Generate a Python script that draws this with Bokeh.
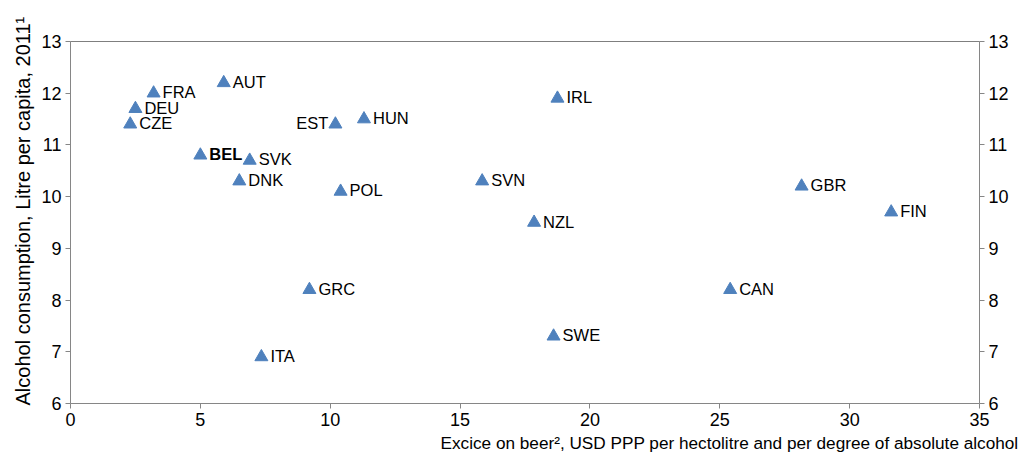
from bokeh.plotting import figure
from bokeh.models import ColumnDataSource, LinearAxis, FixedTicker, Span, Title, Range1d
from bokeh.core.properties import value
from bokeh.embed import file_html
from bokeh.resources import INLINE

countries = ["CZE", "DEU", "FRA", "AUT", "BEL", "SVK", "DNK", "EST", "HUN", "POL",
             "IRL", "SVN", "NZL", "GBR", "FIN", "CAN", "SWE", "GRC", "ITA"]
excise = [2.3, 2.5, 3.2, 5.9, 5.0, 6.9, 6.5, 10.2, 11.3, 10.4,
          18.75, 15.85, 17.85, 28.15, 31.6, 25.4, 18.6, 9.2, 7.35]
consumption = [11.4, 11.7, 12.0, 12.2, 10.8, 10.7, 10.3, 11.4, 11.5, 10.1,
               11.9, 10.3, 9.5, 10.2, 9.7, 8.2, 7.3, 8.2, 6.9]
left_labels = ["EST"]
bold_labels = ["BEL"]
x_ticks = [0, 5, 10, 15, 20, 25, 30, 35]
y_ticks = [6, 7, 8, 9, 10, 11, 12, 13]
x_title = "Excice on beer², USD PPP per hectolitre and per degree of absolute alcohol"
y_title = "Alcohol consumption, Litre per capita, 2011¹"

FONT = "Liberation Sans"
BLUE = "#4F81BD"
GREY = "#868686"

src_r = ColumnDataSource(dict(
    x=[x for x, c in zip(excise, countries) if c not in left_labels],
    y=[y for y, c in zip(consumption, countries) if c not in left_labels],
    t=[c for c in countries if c not in left_labels],
    s=["bold" if c in bold_labels else "normal" for c in countries if c not in left_labels],
))
src_l = ColumnDataSource(dict(
    x=[x for x, c in zip(excise, countries) if c in left_labels],
    y=[y for y, c in zip(consumption, countries) if c in left_labels],
    t=[c for c in countries if c in left_labels],
))

p = figure(frame_width=909, frame_height=362, output_backend="svg", toolbar_location=None,
           x_range=Range1d(0, 35), y_range=Range1d(6, 13),
           min_border_left=70, min_border_right=40, min_border_top=41, min_border_bottom=54)
p.outline_line_color = None
p.xgrid.visible = False
p.ygrid.visible = False
p.background_fill_color = "white"
p.border_fill_color = "white"

p.extra_y_ranges = {"r": Range1d(6, 13)}
ax_r = LinearAxis(y_range_name="r")
p.add_layout(ax_r, "right")

for ax, ticks in ((p.xaxis[0], x_ticks), (p.yaxis[0], y_ticks), (ax_r, y_ticks)):
    ax.ticker = FixedTicker(ticks=ticks)
    ax.axis_line_color = GREY
    ax.major_tick_line_color = GREY
    ax.major_tick_out = 5
    ax.major_tick_in = 0
    ax.minor_tick_line_color = None
    ax.major_label_text_font = FONT
    ax.major_label_text_font_size = "18px"
    ax.major_label_text_color = "#000000"
    ax.major_label_standoff = 4

p.add_layout(Span(location=13, dimension="width", line_color="black", line_width=1))

p.scatter("x", "y", source=src_r, marker="triangle", size=13, color=BLUE)
p.scatter("x", "y", source=src_l, marker="triangle", size=13, color=BLUE)

p.text("x", "y", text="t", source=src_r, x_offset=9, y_offset=-1,
       text_font=value(FONT), text_font_size="16.5px", text_font_style="s",
       text_baseline="middle", text_align="left", text_color="black")
p.text("x", "y", text="t", source=src_l, x_offset=-7, y_offset=-1,
       text_font=value(FONT), text_font_size="16.5px",
       text_baseline="middle", text_align="right", text_color="black")

p.add_layout(Title(text=x_title, align="right", offset=-39, standoff=5,
                   text_font=FONT, text_font_size="17.2px", text_font_style="normal",
                   text_color="black"), "below")
p.add_layout(Title(text=y_title, align="left", offset=-2, standoff=10,
                   text_font=FONT, text_font_size="20px", text_font_style="normal",
                   text_color="black"), "left")

open("out.html", "w").write(file_html(p, INLINE))
